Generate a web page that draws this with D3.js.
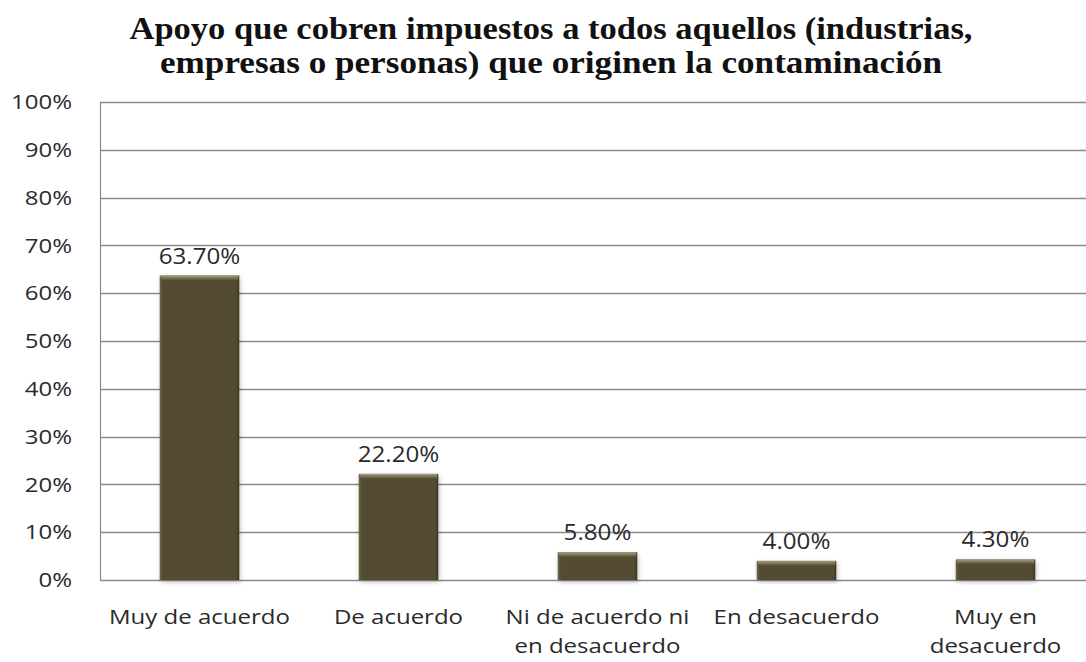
<!DOCTYPE html>
<html>
<head>
<meta charset="utf-8">
<script src="https://cdn.jsdelivr.net/npm/d3@7"></script>
<style>
  body { margin: 0; background: #fff; }
</style>
</head>
<body>
<div id="chart"></div>
<script>
// data
var titleLines = ["Apoyo que cobren impuestos a todos aquellos (industrias,",
                  "empresas o personas) que originen la contaminación"];
var categories = [["Muy de acuerdo"], ["De acuerdo"], ["Ni de acuerdo ni", "en desacuerdo"],
                  ["En desacuerdo"], ["Muy en", "desacuerdo"]];
var values = [63.7, 22.2, 5.8, 4.0, 4.3];
var yTicks = [0, 10, 20, 30, 40, 50, 60, 70, 80, 90, 100];

var W = 1086, H = 662;
var margin = {top: 102, left: 100, bottom: 82};
var plotRight = 1095; // plot runs a bit past the window edge

var svg = d3.select("#chart").append("svg")
    .attr("width", W)
    .attr("height", H);

var defs = svg.append("defs");
var shadow = defs.append("filter").attr("id", "shadow")
    .attr("x", "-20%").attr("y", "-20%").attr("width", "140%").attr("height", "140%");
shadow.append("feGaussianBlur").attr("in", "SourceAlpha").attr("stdDeviation", 2.5);
shadow.append("feOffset").attr("dx", 1).attr("dy", 2).attr("result", "b");
shadow.append("feComponentTransfer").append("feFuncA").attr("type", "linear").attr("slope", 0.25);
var merge = shadow.append("feMerge");
merge.append("feMergeNode");
merge.append("feMergeNode").attr("in", "SourceGraphic");

var topGrad = defs.append("linearGradient").attr("id", "topGrad")
    .attr("x1", 0).attr("y1", 0).attr("x2", 0).attr("y2", 1);
topGrad.append("stop").attr("offset", "0%").attr("stop-color", "#a49f82");
topGrad.append("stop").attr("offset", "100%").attr("stop-color", "#524b30");

var sideGrad = defs.append("linearGradient").attr("id", "sideGrad")
    .attr("x1", 0).attr("y1", 0).attr("x2", 1).attr("y2", 0);
sideGrad.append("stop").attr("offset", "0%").attr("stop-color", "#6e6848");
sideGrad.append("stop").attr("offset", "4%").attr("stop-color", "#524b30");
sideGrad.append("stop").attr("offset", "96%").attr("stop-color", "#524b30");
sideGrad.append("stop").attr("offset", "100%").attr("stop-color", "#3c3621");

var x = d3.scaleBand()
    .domain(d3.range(categories.length))
    .range([margin.left, plotRight])
    .paddingInner(0.6)
    .paddingOuter(0.3);

var y = d3.scaleLinear().domain([0, 100]).range([H - 82, margin.top]);

// stretch helper: reference text is drawn wider than the installed fonts
function stretch(sel, k) {
    sel.each(function() {
        var len = this.getComputedTextLength();
        d3.select(this).attr("textLength", len * k).attr("lengthAdjust", "spacingAndGlyphs");
    });
}

// grid lines
svg.append("g")
    .selectAll("line")
    .data(yTicks)
    .enter()
    .append("line")
    .attr("x1", margin.left)
    .attr("x2", W)
    .attr("y1", function(d) { return Math.round(y(d)) + 0.5; })
    .attr("y2", function(d) { return Math.round(y(d)) + 0.5; })
    .style("stroke", "#8a8a8a")
    .style("stroke-width", 1.3);

// left axis line
svg.append("line")
    .attr("x1", margin.left + 0.5).attr("x2", margin.left + 0.5)
    .attr("y1", y(100)).attr("y2", y(0))
    .style("stroke", "#8a8a8a")
    .style("stroke-width", 1.2);

// y tick labels
var yLabels = svg.append("g")
    .selectAll("text")
    .data(yTicks)
    .enter()
    .append("text")
    .attr("x", 72)
    .attr("y", function(d) { return y(d); })
    .attr("dy", "0.36em")
    .style("text-anchor", "end")
    .style("font-family", "'Open Sans', sans-serif")
    .style("font-size", "20px")
    .style("fill", "#2a2a2a")
    .text(function(d) { return d + "%"; });
stretch(yLabels, 1.2);

// bars
var bars = svg.append("g")
    .selectAll("g")
    .data(values)
    .enter()
    .append("g")
    .attr("filter", "url(#shadow)");

bars.append("rect")
    .attr("x", function(d, i) { return x(i); })
    .attr("y", function(d) { return y(d); })
    .attr("width", x.bandwidth())
    .attr("height", function(d) { return y(0) - y(d); })
    .style("fill", "url(#sideGrad)");

bars.append("rect")
    .attr("x", function(d, i) { return x(i) + 1; })
    .attr("y", function(d) { return y(d); })
    .attr("width", x.bandwidth() - 2)
    .attr("height", 5)
    .style("fill", "url(#topGrad)");

// value labels
var valLabels = svg.append("g")
    .selectAll("text")
    .data(values)
    .enter()
    .append("text")
    .attr("x", function(d, i) { return x(i) + x.bandwidth() / 2; })
    .attr("y", function(d) { return y(d) - 12; })
    .style("text-anchor", "middle")
    .style("font-family", "'Open Sans', sans-serif")
    .style("font-size", "21px")
    .style("fill", "#2a2a2a")
    .text(function(d) { return d.toFixed(2) + "%"; });
stretch(valLabels, 1.15);

// category labels
var catG = svg.append("g")
    .selectAll("text")
    .data(categories)
    .enter()
    .append("text")
    .attr("y", 624)
    .style("text-anchor", "middle")
    .style("font-family", "'Open Sans', sans-serif")
    .style("font-size", "20px")
    .style("fill", "#2a2a2a");

catG.selectAll("tspan")
    .data(function(d, i) { return d.map(function(t) { return {t: t, i: i}; }); })
    .enter()
    .append("tspan")
    .attr("x", function(d) { return x(d.i) + x.bandwidth() / 2; })
    .attr("dy", function(d, j) { return j === 0 ? 0 : 29; })
    .text(function(d) { return d.t; });
catG.selectAll("tspan").each(function() {
    var len = this.getComputedTextLength();
    d3.select(this).attr("textLength", len * 1.2).attr("lengthAdjust", "spacingAndGlyphs");
});

// title
var titleWidths = [843, 782];
svg.append("g")
    .selectAll("text")
    .data(titleLines)
    .enter()
    .append("text")
    .attr("x", 551)
    .attr("y", function(d, i) { return 39 + i * 34; })
    .style("text-anchor", "middle")
    .style("font-family", "'Liberation Serif', 'Times New Roman', serif")
    .style("font-weight", "bold")
    .style("font-size", "31px")
    .style("fill", "#111")
    .attr("textLength", function(d, i) { return titleWidths[i]; })
    .attr("lengthAdjust", "spacingAndGlyphs")
    .text(function(d) { return d; });
</script>
</body>
</html>
